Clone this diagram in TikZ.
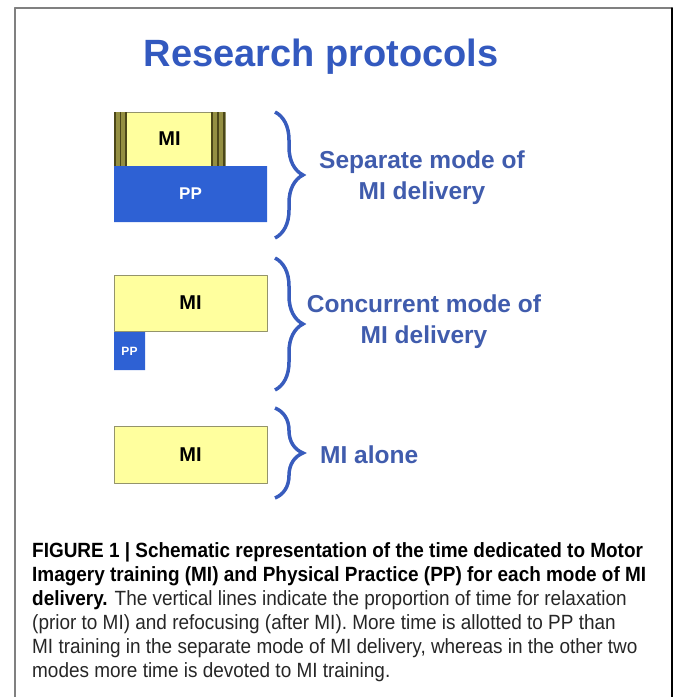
\documentclass[tikz,border=0pt]{standalone}
\usepackage{fontspec}
\setmainfont{Liberation Sans}
\newfontfamily\capfont[FakeStretch=0.92]{Liberation Sans}
\usepackage{tkz-euclide}
\usetikzlibrary{calc,decorations.pathreplacing}
\definecolor{TitleClr}{rgb}{0.2,0.35,0.75}
\definecolor{LabelClr}{rgb}{0.25,0.36,0.68}
\definecolor{BraceClr}{rgb}{0.22,0.36,0.74}
\definecolor{MIClr}{rgb}{1,1,0.62}
\definecolor{MIEdgeClr}{rgb}{0.58,0.58,0.42}
\definecolor{PPClr}{rgb}{0.18,0.38,0.83}
\definecolor{BarClr}{rgb}{0.58,0.56,0.26}
\definecolor{BarLineClr}{rgb}{0.3,0.28,0.1}
\definecolor{FrameClr}{rgb}{0.5,0.5,0.5}
\definecolor{CapClr}{rgb}{0.15,0.15,0.15}

\begin{document}
\begin{tikzpicture}[x=1pt,y=-1pt,
  protbrace/.style={decorate,decoration={brace,amplitude=28pt},line width=3.5pt,color=BraceClr},
  boxtext/.style={font=\bfseries\fontsize{20}{24}\selectfont},
  modetext/.style={font=\bfseries\fontsize{24.5}{31}\selectfont,text=LabelClr,align=center},
  captext/.style={font=\capfont\fontsize{20.6}{24}\selectfont,text=CapClr,anchor=base west,inner sep=0pt}]
\useasboundingbox (0,0) rectangle (673,697);

\tkzDefPoints{15/8/Fa,672/8/Fb,15/697/Fc,672/697/Fd}

% separate mode
\tkzDefPoints{114/112/Sa,225/112/Sb,225/166/Sc,114/166/Sd}
\tkzDefPoints{114/166/Pa,267/166/Pb,267/222/Pc,114/222/Pd}
% concurrent mode
\tkzDefPoints{114/275/Ca,267/275/Cb,267/331/Cc,114/331/Cd}
\tkzDefPoints{114/332/Qa,145/332/Qb,145/370/Qc,114/370/Qd}
% MI alone
\tkzDefPoints{114/426/Aa,267/426/Ab,267/483/Ac,114/483/Ad}

\tkzDefPoints{275/112/Ba,275/238/Bb,275/258/Bc,275/390/Bd,275/408/Be,275/498/Bf}

\tkzDrawSegment[line width=2pt,color=FrameClr](Fa,Fb)
\tkzDrawSegment[line width=2pt,color=FrameClr](Fa,Fc)
\tkzDrawSegment[line width=1.2pt,color=black](Fb,Fd)

\node[font=\bfseries\fontsize{38}{40}\selectfont,text=TitleClr,anchor=base] (title) at (321,66) {Research protocols};

\tkzFillPolygon[fill=MIClr](Sa,Sb,Sc,Sd)
\tkzDrawPolygon[line width=1pt,color=MIEdgeClr](Sa,Sb,Sc,Sd)
\fill[BarClr] (Sa) rectangle (127,166);
\fill[BarClr] (211,112) rectangle (Sc);
\foreach \x in {115,120.5,126,212,218,224}
  \draw[line width=1.6pt,BarLineClr] (\x,112) -- (\x,166);
\tkzFillPolygon[fill=PPClr](Pa,Pb,Pc,Pd)

\tkzFillPolygon[fill=MIClr](Ca,Cb,Cc,Cd)
\tkzDrawPolygon[line width=1pt,color=MIEdgeClr](Ca,Cb,Cc,Cd)
\tkzFillPolygon[fill=PPClr](Qa,Qb,Qc,Qd)

\tkzFillPolygon[fill=MIClr](Aa,Ab,Ac,Ad)
\tkzDrawPolygon[line width=1pt,color=MIEdgeClr](Aa,Ab,Ac,Ad)

\node[boxtext] (miS) at ($(Sa)!.5!(Sc)$) {MI};
\node[boxtext,text=white,font=\bfseries\fontsize{17}{20}\selectfont] (ppS) at ($(Pa)!.5!(Pc)$) {PP};
\node[boxtext] (miC) at ($(Ca)!.5!(Cc)$) {MI};
\node[text=white,font=\bfseries\fontsize{12}{14}\selectfont] (ppC) at ($(Qa)!.5!(Qc)$) {PP};
\node[boxtext] (miA) at ($(Aa)!.5!(Ac)$) {MI};

\draw[protbrace] (Ba) -- (Bb);
\draw[protbrace] (Bc) -- (Bd);
\draw[protbrace] (Be) -- (Bf);

\node[modetext] (modeS) at (422,178) {Separate mode of\\MI delivery};
\node[modetext] (modeC) at (424,322) {Concurrent mode of\\MI delivery};
\node[modetext,anchor=base west,inner sep=0pt] (modeA) at (320,463) {MI alone};

\node[captext] (cap1) at (32,557) {\textbf{\color{black}FIGURE 1 | Schematic representation of the time dedicated to Motor}};
\node[captext] (cap2) at (32,581) {\textbf{\color{black}Imagery training (MI) and Physical Practice (PP) for each mode of MI}};
\node[captext] (cap3) at (32,605) {\textbf{\color{black}delivery.} The vertical lines indicate the proportion of time for relaxation};
\node[captext] (cap4) at (32,629) {(prior to MI) and refocusing (after MI). More time is allotted to PP than};
\node[captext] (cap5) at (32,653) {MI training in the separate mode of MI delivery, whereas in the other two};
\node[captext] (cap6) at (32,677) {modes more time is devoted to MI training.};

\end{tikzpicture}
\end{document}
